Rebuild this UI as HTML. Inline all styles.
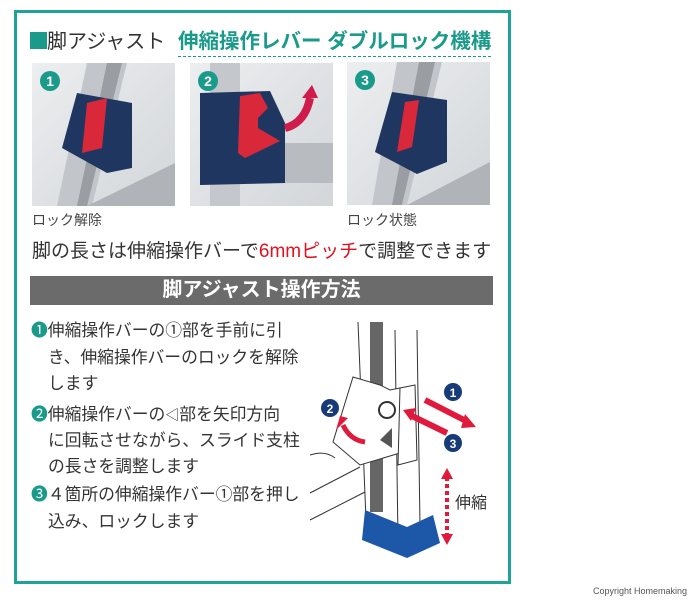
<!DOCTYPE html>
<html><head><meta charset="utf-8"><style>
body{margin:0;background:#fff;width:700px;height:600px;position:relative;overflow:hidden;font-family:"Liberation Sans","Noto Sans CJK JP",sans-serif;}
.frame{position:absolute;left:14px;top:10px;width:491px;height:568px;border:3px solid #1fa396;}
.abs{position:absolute;white-space:nowrap;}
.photo{position:absolute;width:143px;height:143px;background:linear-gradient(135deg,#eceef0,#d3d6d9);overflow:hidden;}
.num{position:absolute;left:8px;top:8px;width:20px;height:20px;border-radius:50%;background:#1a9a8a;color:#fff;font-weight:bold;font-size:14px;text-align:center;line-height:20px;}
.t{font-size:16.8px;color:#333;}
</style></head><body>
<div class="frame"></div>
<div class="abs" style="left:30px;top:25px;font-size:20px;color:#333;"><span style="display:inline-block;width:17px;height:17px;background:#1a9a8a;vertical-align:-1px;"></span>脚アジャスト</div>
<div class="abs" style="left:178px;top:24px;font-size:20.5px;font-weight:bold;color:#1a9a8a;border-bottom:1px dashed #1a9a8a;padding-bottom:2px;">伸縮操作レバー ダブルロック機構</div>

<div class="photo" style="left:32px;top:63px;">
<svg width="143" height="143"><polygon points="55,0 95,0 60,143 25,143" fill="#c2c6ca"/><polygon points="75,0 90,0 55,143 45,143" fill="#9a9ea3"/><polygon points="55,143 143,100 143,143" fill="#b0b4b8"/><polygon points="45,30 100,40 100,105 75,110 30,85" fill="#1f3760"/><polygon points="55,40 75,35 70,85 50,90" fill="#d8283a"/></svg><div class="num">1</div></div>
<div class="photo" style="left:190px;top:63px;">
<svg width="143" height="143"><rect x="20" y="0" width="30" height="143" fill="#c4c8cc"/><rect x="90" y="80" width="53" height="40" fill="#b8bcc0"/><polygon points="10,30 80,28 95,60 95,120 10,122" fill="#1f3760"/><polygon points="50,33 70,30 78,45 68,55 68,65 90,78 55,95 48,90" fill="#d8283a"/><path d="M95,65 Q115,60 120,35" stroke="#d01c4a" stroke-width="8" fill="none"/><polygon points="112,35 128,35 122,22" fill="#d01c4a"/></svg><div class="num">2</div></div>
<div class="photo" style="left:347px;top:62px;">
<svg width="143" height="143"><polygon points="50,0 95,0 60,143 25,143" fill="#c2c6ca"/><polygon points="72,0 88,0 55,143 45,143" fill="#9a9ea3"/><polygon points="60,143 143,100 143,143" fill="#b0b4b8"/><polygon points="45,30 100,38 100,100 70,112 28,90" fill="#1f3760"/><polygon points="58,40 72,38 65,85 50,90" fill="#d8283a"/></svg><div class="num">3</div></div>

<div class="abs" style="left:32px;top:210px;font-size:14px;color:#444;">ロック解除</div>
<div class="abs" style="left:347px;top:210px;font-size:14px;color:#444;">ロック状態</div>
<div class="abs" style="left:32px;top:236px;font-size:19px;color:#333;">脚の長さは伸縮操作バーで<span style="color:#e0101e;">6mmピッチ</span>で調整できます</div>
<div class="abs" style="left:30px;top:276px;width:463px;height:29px;background:#6b6b6b;color:#fff;font-weight:bold;font-size:20px;text-align:center;line-height:29px;">脚アジャスト操作方法</div>

<div class="abs t" style="left:31px;top:318px;line-height:26.5px;">
<span style="color:#1a9a8a;">❶</span>伸縮操作バーの①部を手前に引<br><span style="padding-left:17px">き、伸縮操作バーのロックを解除</span><br><span style="padding-left:17px">します</span></div>
<div class="abs t" style="left:31px;top:402px;line-height:26px;">
<span style="color:#1a9a8a;">❷</span>伸縮操作バーの<span style="font-size:14px;">◁</span>部を矢印方向<br><span style="padding-left:17px">に回転させながら、スライド支柱</span><br><span style="padding-left:17px">の長さを調整します</span></div>
<div class="abs t" style="left:31px;top:481px;line-height:27px;">
<span style="color:#1a9a8a;">❸</span>４箇所の伸縮操作バー①部を押し<br><span style="padding-left:17px">込み、ロックします</span></div>

<svg class="abs" style="left:0;top:0" width="700" height="600">
<g stroke="#333" stroke-width="1" fill="none">
<line x1="358" y1="322" x2="366" y2="520"/><line x1="395" y1="330" x2="398" y2="540"/><line x1="417" y1="330" x2="420" y2="525"/>
<line x1="310" y1="493" x2="360" y2="467"/><line x1="310" y1="520" x2="365" y2="492"/>
<path d="M310,455 Q325,450 335,458"/>
</g>
<rect x="370" y="322" width="13" height="190" fill="#666"/>
<polygon points="353,377 380,385 390,390 400,388 400,453 360,465 333,442" fill="#fff" stroke="#333"/>
<polygon points="400,388 415,385 417,460 398,465" fill="#fff" stroke="#333"/>
<circle cx="387" cy="410" r="8" fill="#fff" stroke="#333" stroke-width="2"/>
<polygon points="380,440 392,428 392,448" fill="#555"/>
<polygon points="365,510 407,527 433,515 440,543 407,558 362,540" fill="#1c57a8"/>
<path d="M365,442 Q350,440 343,425" stroke="#e01a3c" stroke-width="5" fill="none"/><polygon points="336,430 348,418 340,416" fill="#e01a3c"/>
<line x1="425" y1="400" x2="468" y2="422" stroke="#e01a3c" stroke-width="6"/><polygon points="465,414 476,427 461,428" fill="#e01a3c"/>
<line x1="447" y1="433" x2="410" y2="415" stroke="#e01a3c" stroke-width="6"/><polygon points="403,410 416,408 411,421" fill="#e01a3c"/>
<line x1="447" y1="477" x2="447" y2="536" stroke="#e01a3c" stroke-width="4" stroke-dasharray="4,3"/>
<polygon points="441,479 453,479 447,468" fill="#e01a3c"/><polygon points="441,534 453,534 447,545" fill="#e01a3c"/>
<g font-family="Liberation Sans" font-weight="bold" font-size="12" fill="#fff" text-anchor="middle">
<circle cx="453" cy="392" r="9" fill="#173a78"/><text x="453" y="397">1</text>
<circle cx="453" cy="443" r="9" fill="#173a78"/><text x="453" y="448">3</text>
<circle cx="330" cy="408" r="9" fill="#173a78"/><text x="330" y="413">2</text>
</g>
<text x="455" y="508" font-size="16" fill="#333" font-family="Liberation Sans,Noto Sans CJK JP,sans-serif">伸縮</text>
</svg>
<div class="abs" style="left:593px;top:586px;font-size:9px;color:#555;">Copyright Homemaking</div>
</body></html>
